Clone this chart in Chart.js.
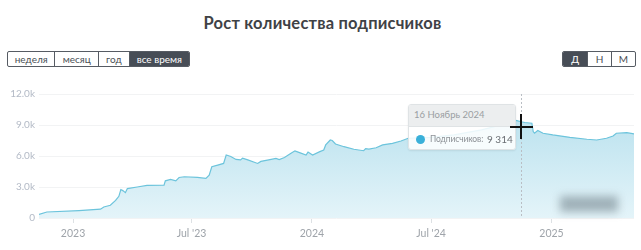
<!DOCTYPE html>
<html>
<head>
<meta charset="utf-8">
<script src="https://cdn.jsdelivr.net/npm/chart.js@4.4.0/dist/chart.umd.min.js"></script>
<style>
  body{margin:0;width:641px;height:250px;background:#fff;font-family:Lato,sans-serif;position:relative;overflow:hidden}
  #title{position:absolute;top:13px;left:2px;width:641px;text-align:center;font-size:16.5px;font-weight:700;color:#3f4246;letter-spacing:0.2px}
  .grp{position:absolute;top:51px;height:16px;display:flex;border:1px solid #565b63;border-radius:2px;box-sizing:border-box;overflow:hidden}
  .grp div{box-sizing:border-box;height:100%;font-size:10px;line-height:14px;text-align:center;color:#4a4f55;border-right:1px solid #565b63}
  .grp div:last-child{border-right:none}
  .grp div.on{background:#474d56;color:#fff}
  #wrap{position:absolute;left:0;top:80px;width:641px;height:170px}
  #tip{position:absolute;width:108px;height:46px;box-sizing:border-box;border:1px solid #dfe3e5;border-radius:3px;background:rgba(255,255,255,0.86);box-shadow:0 1px 2px rgba(0,0,0,0.08);overflow:hidden}
  #tip .hd{height:21px;background:#eceeef;border-bottom:1px solid #dfe3e5;font-size:9.5px;line-height:20px;color:#9a9ea2;padding-left:5px}
  #tip .bd{height:24px;position:relative;white-space:nowrap}
  #tip .nm{position:absolute;left:21px;top:0;font-size:8.5px;line-height:24px;color:#8d9196;letter-spacing:-0.1px}
  #tip .val{position:absolute;left:78px;top:0;font-size:10px;line-height:24px;color:#6a6e73}
  #tip .dot{position:absolute;left:7px;top:8px;width:9px;height:9px;border-radius:50%;background:#3ab0d9}
  #blur{position:absolute;left:560px;top:196px;width:58px;height:16px;background:rgba(110,125,135,0.55);filter:blur(4px)}
  .cur{position:absolute;background:#111}
</style>
</head>
<body>
<div id="title">Рост количества подписчиков</div>
<div class="grp" style="left:7px;width:183px">
  <div style="width:48px">неделя</div>
  <div style="width:44px">месяц</div>
  <div style="width:31px">год</div>
  <div class="on" style="width:60px">все время</div>
</div>
<div class="grp" style="left:562px;width:74px">
  <div class="on" style="width:26px">Д</div>
  <div style="width:24px">Н</div>
  <div style="width:24px">М</div>
</div>
<div id="wrap"><canvas id="chart"></canvas></div>
<div id="blur"></div>
<div id="tip"><div class="hd" id="tipDate"></div><div class="bd"><span class="dot"></span><span class="nm" id="tipName"></span><span class="val" id="tipVal"></span></div></div>
<div class="cur" id="curH"></div>
<div class="cur" id="curV"></div>
<script>
const dates = [
  '2022-11-10','2022-11-22','2023-01-10','2023-02-12','2023-02-17','2023-02-27','2023-03-07','2023-03-12',
  '2023-03-15','2023-03-18','2023-03-22','2023-03-25','2023-04-09','2023-04-24','2023-05-20','2023-05-22',
  '2023-05-30','2023-06-07','2023-06-12','2023-06-20','2023-07-10','2023-07-23','2023-07-28','2023-08-01',
  '2023-08-10','2023-08-19','2023-08-23','2023-08-30','2023-09-07','2023-09-14','2023-09-17','2023-09-25',
  '2023-10-10','2023-10-15','2023-10-25','2023-11-07','2023-11-12','2023-11-20','2023-11-30','2023-12-06',
  '2023-12-13','2023-12-23','2023-12-26','2024-01-02','2024-01-13','2024-01-19','2024-01-22','2024-01-29',
  '2024-02-01','2024-02-06','2024-02-19','2024-03-05','2024-03-20','2024-03-23','2024-03-28','2024-04-08',
  '2024-04-18','2024-05-03','2024-05-16','2024-05-27','2024-07-01','2024-08-05','2024-09-16','2024-10-06',
  '2024-10-24','2024-10-29','2024-11-09','2024-11-16','2024-11-21','2024-12-02','2024-12-04','2024-12-06',
  '2024-12-11','2024-12-19','2025-01-03','2025-01-29','2025-02-24','2025-03-11','2025-03-26','2025-04-05',
  '2025-04-10','2025-04-26','2025-05-07'
];
const subscribers = [
  350,580,720,850,1070,1230,1700,2100,
  2750,2650,2450,2850,3000,3150,3170,3600,
  3730,3600,3920,3990,3930,3830,4150,4960,
  5120,5280,6100,5950,5670,5620,5800,5620,
  5280,5480,5600,5770,5650,5850,6260,6500,
  6330,6100,6380,6100,6420,6580,7070,7550,
  7500,7160,6900,6650,6510,6720,6660,6800,
  7070,7230,7450,7720,7800,8040,8530,8850,
  9200,9570,9430,9314,9240,9170,8360,8200,
  8460,8200,8040,7810,7620,7550,7720,7940,
  8200,8260,8140
];
const xTickDates = ['2023-01-01','2023-07-01','2024-01-01','2024-07-01','2025-01-01'];
const xTickLabels = ['2023',"Jul '23",'2024',"Jul '24",'2025'];
const yTicks = [0,3000,6000,9000,12000];
const yTickLabels = ['0','3.0k','6.0k','9.0k','12.0k'];
const seriesName = 'Подписчиков:';
const hoverDate = '2024-11-16';
const hoverLabel = '16 Ноябрь 2024';

const ts = d => Date.parse(d + 'T00:00:00Z');
const points = dates.map((d,i)=>({x: ts(d), y: subscribers[i]}));
const hoverIdx = dates.indexOf(hoverDate);

const crosshair = {
  id:'crosshair',
  afterDatasetsDraw(chart){
    const {ctx, chartArea, scales} = chart;
    const x = Math.round(scales.x.getPixelForValue(ts(hoverDate))) + 0.5;
    ctx.save();
    ctx.strokeStyle = '#b9bec4';
    ctx.lineWidth = 1;
    ctx.setLineDash([2,2]);
    ctx.beginPath(); ctx.moveTo(x, chartArea.top); ctx.lineTo(x, chartArea.bottom); ctx.stroke();
    ctx.restore();
  }
};

const ctx = document.getElementById('chart').getContext('2d');
const chart = new Chart(ctx, {
  type:'line',
  data:{ datasets:[{
    data: points,
    borderColor:'#6cc4dc',
    borderWidth:1.2,
    pointRadius:0,
    tension:0,
    fill:'origin',
    backgroundColor: c => {
      const a = c.chart.chartArea;
      if (!a) return '#cdeaf3';
      const g = c.chart.ctx.createLinearGradient(0, a.top, 0, a.bottom);
      g.addColorStop(0, '#b2deec');
      g.addColorStop(1, '#e4f4f9');
      return g;
    }
  }]},
  options:{
    responsive:true, maintainAspectRatio:false, animation:false,
    layout:{ padding:{ top:14, right:7, left:0, bottom:0 } },
    plugins:{ legend:{display:false}, tooltip:{enabled:false} },
    events:[],
    scales:{
      x:{
        type:'linear',
        min: ts(dates[0]), max: ts(dates[dates.length-1]),
        afterBuildTicks: s => { s.ticks = xTickDates.map(d=>({value: ts(d)})); },
        afterFit: s => { s.height = 32; },
        border:{display:false},
        grid:{ drawOnChartArea:false, drawTicks:true, tickLength:5, color:'#dde1e4' },
        ticks:{
          callback:(v,i)=>xTickLabels[i],
          color:'#9fa4aa', font:{family:'Lato', size:10.5}, padding:4, maxRotation:0, autoSkip:false
        }
      },
      y:{
        min:0, max:12000,
        afterBuildTicks: s => { s.ticks = yTicks.map(v=>({value:v})); },
        afterFit: s => { s.width = 39; },
        border:{display:false},
        grid:{ color:'#f2f3f4', drawTicks:false },
        ticks:{
          callback:(v,i)=>yTickLabels[i],
          color:'#b3bac6', font:{family:'Lato', size:10}, padding:4
        }
      }
    }
  },
  plugins:[crosshair]
});

// tooltip + pointer at the hovered point
const px = chart.scales.x.getPixelForValue(points[hoverIdx].x);
const py = 80 + chart.scales.y.getPixelForValue(points[hoverIdx].y);
document.getElementById('tipDate').textContent = hoverLabel;
document.getElementById('tipName').textContent = seriesName;
document.getElementById('tipVal').textContent = subscribers[hoverIdx].toLocaleString('ru-RU').replace(/\s/g,' ');
const tip = document.getElementById('tip');
tip.style.left = Math.round(px - 113) + 'px';
tip.style.top = '104px';
const h = document.getElementById('curH'), v = document.getElementById('curV');
h.style.cssText += `left:${Math.round(px-11)}px;top:${Math.round(py+4)}px;width:23px;height:2px;`;
v.style.cssText += `left:${Math.round(px-1)}px;top:${Math.round(py-8)}px;width:2px;height:25px;`;
</script>
</body>
</html>
